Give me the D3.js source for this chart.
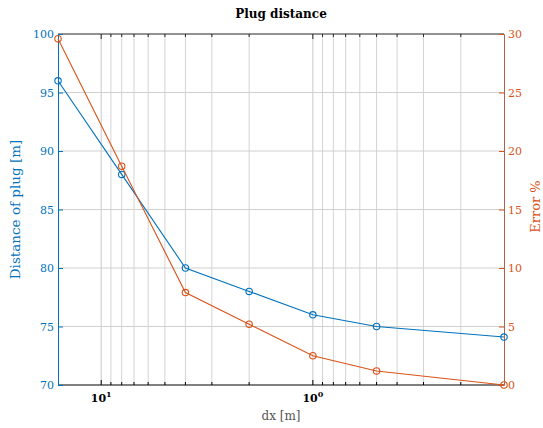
<!DOCTYPE html>
<html>
<head>
<meta charset="utf-8">
<script src="https://cdn.jsdelivr.net/npm/d3@7"></script>
<style>
  body { margin: 0; background: #fff; }
</style>
</head>
<body>
<div id="chart"></div>
<script>
var wd = 543;
var ht = 428;
var margin = { top: 34, right: 39, bottom: 43, left: 58 };

// data
var dx = [16, 8, 4, 2, 1, 0.5, 0.125];
var plugDistance = [96, 88, 80, 78, 76, 75, 74.1];
var errorPct = [29.6, 18.7, 7.9, 5.2, 2.5, 1.2, 0];
var leftTicks = [70, 75, 80, 85, 90, 95, 100];
var rightTicks = [0, 5, 10, 15, 20, 25, 30];
var gridX = [10, 9, 8, 7, 6, 5, 4, 3, 2, 1, 0.9, 0.8, 0.7, 0.6, 0.5, 0.4, 0.3, 0.2];
var majorX = [10, 1];

var blue = "#0072BD";
var orange = "#D95319";
var axisGray = "#262626";
var serif = "'DejaVu Serif', serif";

var svg = d3.select("#chart").append("svg").attr("width", wd).attr("height", ht)
  .attr("font-family", serif);

var x0 = margin.left, x1 = wd - margin.right;
var y0 = ht - margin.bottom, y1 = margin.top;

var xScale = d3.scaleLog().domain([16, 0.125]).range([x0, x1]);
var yLeft = d3.scaleLinear().domain([70, 100]).range([y0, y1]);
var yRight = d3.scaleLinear().domain([0, 30]).range([y0, y1]);

// grid
svg.append("g").selectAll("line").data(gridX).enter().append("line")
  .attr("x1", function(d){ return xScale(d); }).attr("x2", function(d){ return xScale(d); })
  .attr("y1", y0).attr("y2", y1)
  .attr("stroke", function(d){ return majorX.indexOf(d) >= 0 ? "#c8c8c8" : "#d4d4d4"; })
  .attr("stroke-width", 1);
svg.append("g").selectAll("line").data(leftTicks.slice(1, -1)).enter().append("line")
  .attr("x1", x0).attr("x2", x1)
  .attr("y1", function(d){ return yLeft(d); }).attr("y2", function(d){ return yLeft(d); })
  .attr("stroke", "#d0d0d0").attr("stroke-width", 1);

// top box line with ticks
svg.append("line").attr("x1", x0).attr("x2", x1).attr("y1", y1).attr("y2", y1)
  .attr("stroke", axisGray).attr("stroke-width", 1);
svg.append("g").selectAll("line").data(gridX).enter().append("line")
  .attr("x1", function(d){ return xScale(d); }).attr("x2", function(d){ return xScale(d); })
  .attr("y1", y1).attr("y2", function(d){ return y1 + (majorX.indexOf(d) >= 0 ? 5 : 3); })
  .attr("stroke", axisGray);

// bottom axis
svg.append("line").attr("x1", x0).attr("x2", x1).attr("y1", y0).attr("y2", y0)
  .attr("stroke", "#000").attr("stroke-width", 1);
svg.append("g").selectAll("line").data(gridX).enter().append("line")
  .attr("x1", function(d){ return xScale(d); }).attr("x2", function(d){ return xScale(d); })
  .attr("y1", y0).attr("y2", function(d){ return y0 - (majorX.indexOf(d) >= 0 ? 5 : 3); })
  .attr("stroke", "#000");
var xl = svg.append("g").selectAll("text").data(majorX).enter().append("text")
  .attr("x", function(d){ return xScale(d); }).attr("y", y0 + 17)
  .attr("text-anchor", "middle").attr("font-size", 11).attr("font-weight", "bold").attr("fill", "#000");
xl.append("tspan").text("10");
xl.append("tspan").attr("dy", -5).attr("font-size", 8).text(function(d){ return Math.round(Math.log10(d)); });

svg.append("text").attr("x", (x0 + x1) / 2).attr("y", ht - 8).attr("text-anchor", "middle")
  .attr("font-size", 12).attr("fill", "#555").text("dx [m]");

// left axis
var yAxisL = d3.axisLeft(yLeft).tickValues(leftTicks).tickSize(-5).tickPadding(4);
var gl = svg.append("g").attr("transform", "translate(" + x0 + ",0)").call(yAxisL)
  .attr("font-family", serif);
gl.select(".domain").attr("stroke", blue);
gl.selectAll(".tick line").attr("stroke", blue);
gl.selectAll(".tick text").attr("fill", blue).attr("font-size", 11);

// right axis
var yAxisR = d3.axisRight(yRight).tickValues(rightTicks).tickSize(-5).tickPadding(4);
var gr = svg.append("g").attr("transform", "translate(" + x1 + ",0)").call(yAxisR)
  .attr("font-family", serif);
gr.select(".domain").attr("stroke", "#a86450");
gr.selectAll(".tick line").attr("stroke", orange);
gr.selectAll(".tick text").attr("fill", orange).attr("font-size", 11);

// axis titles
svg.append("text").attr("transform", "translate(20," + ((y0 + y1) / 2) + ") rotate(-90)")
  .attr("text-anchor", "middle").attr("font-size", 13.5).attr("fill", blue).text("Distance of plug [m]");
svg.append("text").attr("transform", "translate(540," + ((y0 + y1) / 2 - 3) + ") rotate(-90)")
  .attr("text-anchor", "middle").attr("font-size", 13).attr("fill", orange).text("Error %");

svg.append("text").attr("x", (x0 + x1) / 2).attr("y", 18).attr("text-anchor", "middle")
  .attr("font-size", 12).attr("font-weight", "bold").attr("fill", "#000").text("Plug distance");

// series
function drawSeries(vals, yScale, color) {
  var pts = dx.map(function(d, i){ return [d, vals[i]]; });
  var line = d3.line().x(function(d){ return xScale(d[0]); }).y(function(d){ return yScale(d[1]); });
  svg.append("path").datum(pts).attr("d", line).attr("fill", "none")
    .attr("stroke", color).attr("stroke-width", 1.1);
  svg.append("g").selectAll("circle").data(pts).enter().append("circle")
    .attr("cx", function(d){ return xScale(d[0]); }).attr("cy", function(d){ return yScale(d[1]); })
    .attr("r", 3.2).attr("fill", "none").attr("stroke", color).attr("stroke-width", 1.1);
}
drawSeries(plugDistance, yLeft, blue);
drawSeries(errorPct, yRight, orange);
</script>
</body>
</html>
